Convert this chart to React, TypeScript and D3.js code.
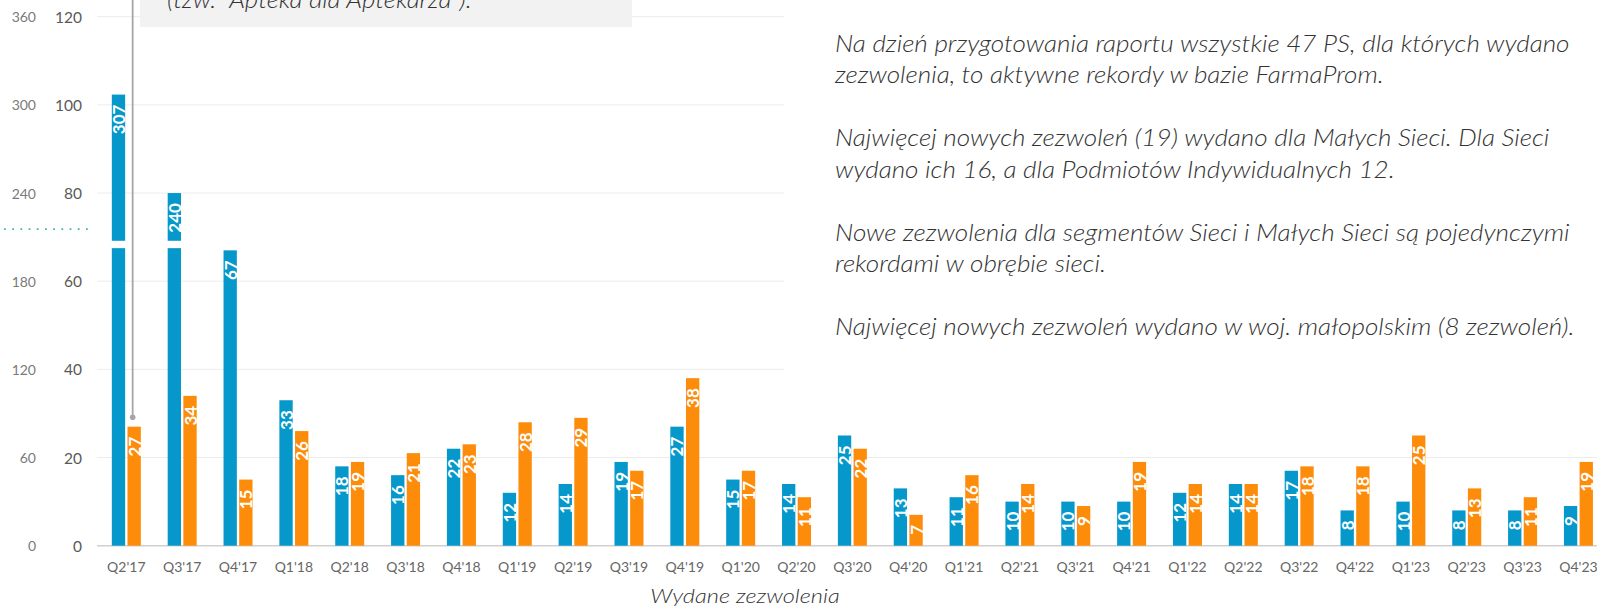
import React from 'react';
import * as d3 from 'd3';

// quarters and values
const categories = [
  "Q2'17", "Q3'17", "Q4'17",
  "Q1'18", "Q2'18", "Q3'18", "Q4'18",
  "Q1'19", "Q2'19", "Q3'19", "Q4'19",
  "Q1'20", "Q2'20", "Q3'20", "Q4'20",
  "Q1'21", "Q2'21", "Q3'21", "Q4'21",
  "Q1'22", "Q2'22", "Q3'22", "Q4'22",
  "Q1'23", "Q2'23", "Q3'23", "Q4'23",
];
const blueValues = [307, 240, 67, 33, 18, 16, 22, 12, 14, 19, 27, 15, 14, 25, 13, 11, 10, 10, 10, 12, 14, 17, 8, 10, 8, 8, 9];
const orangeValues = [27, 34, 15, 26, 19, 21, 23, 28, 29, 17, 38, 17, 11, 22, 7, 16, 14, 9, 19, 14, 14, 18, 18, 25, 13, 11, 19];

const outerTicks = [0, 60, 120, 180, 240, 300, 360];
const innerTicks = [0, 20, 40, 60, 80, 100, 120];

const noteLines = [
  'Na dzień przygotowania raportu wszystkie 47 PS, dla których wydano',
  'zezwolenia, to aktywne rekordy w bazie FarmaProm.',
  '',
  'Najwięcej nowych zezwoleń (19) wydano dla Małych Sieci. Dla Sieci',
  'wydano ich 16, a dla Podmiotów Indywidualnych 12.',
  '',
  'Nowe zezwolenia dla segmentów Sieci i Małych Sieci są pojedynczymi',
  'rekordami w obrębie sieci.',
  '',
  'Najwięcej nowych zezwoleń wydano w woj. małopolskim (8 zezwoleń).',
];
const calloutText = '(tzw. \u201CApteka dla Aptekarza\u201D).';
const axisTitle = 'Wydane zezwolenia';

const BLUE = '#0798cb';
const ORANGE = '#fd8c0b';
const FONT = 'Lato, "Open Sans", sans-serif';

export default function App() {
  const width = 1597;
  const height = 609;
  const y0 = 545.7;
  const yTop = 16.7;

  const x = d3.scaleBand().domain(categories).range([98.4, 98.4 + 27 * 55.85]).padding(0);
  const sub = d3.scaleBand().domain(['b', 'o']).range([0, 29]).paddingInner(0.15);
  const yInner = d3.scaleLinear().domain([0, 120]).range([y0, yTop]);
  const yOuter = d3.scaleLinear().domain([0, 360]).range([y0, yTop]);

  const groupX = (c: string) => (x(c) as number) + x.bandwidth() / 2 - 14.5;
  const barY = (v: number) => (v > 120 ? yOuter(v) : yInner(v));

  const bars: any[] = [];
  categories.forEach((c, i) => {
    bars.push({ c, key: 'b', v: blueValues[i], color: BLUE });
    bars.push({ c, key: 'o', v: orangeValues[i], color: ORANGE });
  });

  const gapHi = yOuter(207.5);
  const gapLo = yOuter(202.5);
  const calloutX = groupX(categories[0]) + (sub('o') as number) + sub.bandwidth() / 2 - 1.5;
  const calloutY = yInner(orangeValues[0]) - 9.5;

  return (
    <svg width={width} height={height} style={{ position: 'absolute', left: 0, top: 0, background: '#fff' }}>
      {/* gridlines */}
      {innerTicks.slice(1).map(t => (
        <line key={t} x1={97} x2={width} y1={yInner(t)} y2={yInner(t)} stroke="#ececec" strokeWidth={1} />
      ))}
      <line x1={97} x2={width} y1={y0} y2={y0} stroke="#d0d0d0" strokeWidth={1.6} />

      {/* axis labels */}
      {outerTicks.map(t => (
        <text key={'o' + t} x={36} y={yOuter(t)} textAnchor="end" dominantBaseline="central"
          fontFamily={FONT} fontSize={14} fill="#7a7a7a">{t}</text>
      ))}
      {innerTicks.map(t => (
        <text key={'i' + t} x={82} y={yInner(t)} textAnchor="end" dominantBaseline="central"
          fontFamily={FONT} fontSize={15.5} fill="#595959">{t}</text>
      ))}
      <line x1={4} x2={88} y1={yOuter(215.5)} y2={yOuter(215.5)} stroke="#3bbcae" strokeWidth={1.8}
        strokeDasharray="1.8,6.4" />

      {/* bars */}
      {bars.map(d => {
        const bx = groupX(d.c) + (sub(d.key) as number);
        const top = barY(d.v);
        return (
          <g key={d.c + d.key}>
            <rect x={bx} y={top} width={sub.bandwidth()} height={y0 - top} fill={d.color} />
            {d.v > 120 && (
              <rect x={bx - 1} y={gapHi} width={sub.bandwidth() + 2} height={gapLo - gapHi} fill="#fff" />
            )}
            <text transform={`translate(${bx + sub.bandwidth() / 2},${top + 10}) rotate(-90)`}
              textAnchor="end" dominantBaseline="central" fontFamily={FONT} fontSize={17}
              fontWeight={700} fill="#fff">{d.v}</text>
          </g>
        );
      })}

      {/* category labels */}
      {categories.map(c => (
        <text key={c} x={(x(c) as number) + x.bandwidth() / 2} y={566.7} textAnchor="middle"
          dominantBaseline="central" fontFamily={FONT} fontSize={14} fill="#666">{c}</text>
      ))}
      <text transform="translate(745,603) scale(1.18,1)" textAnchor="middle" fontFamily={FONT}
        fontStyle="italic" fontWeight={300} fontSize={20} fill="#333">{axisTitle}</text>

      {/* callout */}
      <line x1={calloutX} x2={calloutX} y1={0} y2={calloutY} stroke="#a6a6a6" strokeWidth={1.8} />
      <circle cx={calloutX} cy={calloutY} r={2.8} fill="#a6a6a6" />
      <rect x={140} y={-10} width={492} height={37} fill="#f2f2f2" />
      <text transform="translate(167,7.5) scale(1.1,1)" fontFamily={FONT} fontStyle="italic"
        fontWeight={300} fontSize={23.5} fill="#333">{calloutText}</text>

      {/* notes box */}
      <rect x={784} y={0} width={width - 784} height={390} fill="#fff" />
      {noteLines.map((l, i) => (
        <text key={i} transform={`translate(835,${51.7 + i * 31.5}) scale(1.11,1)`}
          fontFamily={FONT} fontStyle="italic" fontWeight={300} fontSize={23.5} fill="#333">{l}</text>
      ))}
    </svg>
  );
}
